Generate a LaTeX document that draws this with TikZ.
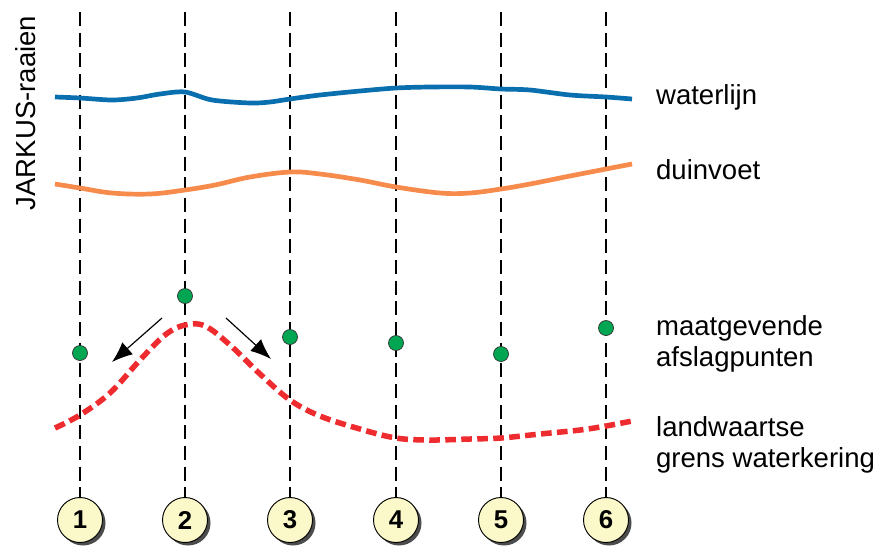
\documentclass[tikz,border=0pt]{standalone}
\usepackage{fontspec}
\setmainfont{Liberation Sans}
\usetikzlibrary{arrows.meta,shadows}
\definecolor{waterblue}{HTML}{0A6FAE}
\definecolor{duinorange}{HTML}{F68B4C}
\definecolor{grensred}{HTML}{EE2B2E}
\definecolor{puntgreen}{HTML}{00A651}
\definecolor{raaifill}{HTML}{FBF8C9}
\tikzset{
  raai/.style={line width=1.6pt, dash pattern=on 0.42cm off 0.2cm},
  raainr/.style={circle, draw=black, line width=0.8pt, fill=raaifill,
    minimum size=1.35cm, inner sep=0pt, font=\fontsize{22}{24}\bfseries,
    drop shadow={shadow xshift=0.09cm, shadow yshift=-0.09cm, opacity=1, fill=black!70}},
  punt/.style={circle, draw=black!80, line width=0.6pt, fill=puntgreen, minimum size=0.45cm, inner sep=0pt},
  legenda/.style={anchor=west, align=left, font=\fontsize{23.5}{27}\selectfont},
  verschuiving/.style={line width=1pt, -{Latex[length=0.62cm, width=0.48cm]}}
}
\begin{document}
\begin{tikzpicture}[x=0.03cm, y=-0.03cm]
  \useasboundingbox (0,0) rectangle (881,552);
  % raaien met nummers
  \foreach \i/\x in {1/80, 2/185, 3/290, 4/396, 5/501, 6/606} {
    \coordinate (t\i) at (\x,12);
    \node[raainr] (r\i) at (\x,520) {\i};
    \draw[raai] (t\i) -- (r\i);
  }
  \node[rotate=90, anchor=center, font=\fontsize{23.5}{27}\selectfont] (jarkus) at (26,113) {JARKUS-raaien};
  % waterlijn en duinvoet
  \draw[waterblue, line width=4pt] plot[smooth, tension=0.5] coordinates {
    (55,97) (80,98) (112,100) (137,98) (160,94) (185,92) (212,100) (250,103)
    (270,102) (290,99) (320,95) (360,91) (396,88) (430,87) (470,87) (501,89)
    (530,90) (570,95) (606,97) (632,99)};
  \draw[duinorange, line width=4pt] plot[smooth, tension=0.6] coordinates {
    (55,184) (80,188) (112,193) (150,194) (185,190) (215,185) (250,177)
    (290,172) (320,174) (360,180) (396,187) (440,193) (470,193) (501,189)
    (530,184) (570,176) (606,169) (632,164)};
  % landwaartse grens
  \draw[grensred, line width=4.7pt, dash pattern=on 0.32cm off 0.16cm] plot[smooth, tension=0.6] coordinates {
    (55,428) (80,415) (110,393) (140,360) (165,335) (185,325) (205,326)
    (230,345) (260,374) (290,400) (320,416) (360,429) (396,438) (430,440)
    (470,439) (501,438) (540,434) (580,430) (606,426) (632,421)};
  % afslagpunten
  \foreach \i/\x/\y in {1/80/353, 2/185/296, 3/290/337, 4/396/343, 5/501/354, 6/606/328}
    \node[punt] (p\i) at (\x,\y) {};
  \coordinate (pijlAstart) at (162,318);
  \coordinate (pijlAeind) at (112,362);
  \coordinate (pijlBstart) at (226,318);
  \coordinate (pijlBeind) at (271,359);
  \draw[verschuiving] (pijlAstart) -- (pijlAeind);
  \draw[verschuiving] (pijlBstart) -- (pijlBeind);
  % legenda
  \node[legenda] (lwater) at (652,97) {waterlijn};
  \node[legenda] (lduin) at (652,170) {duinvoet};
  \node[legenda] (lafslag) at (652,344) {maatgevende\\afslagpunten};
  \node[legenda] (lgrens) at (652,445) {landwaartse\\grens waterkering};
\end{tikzpicture}
\end{document}
